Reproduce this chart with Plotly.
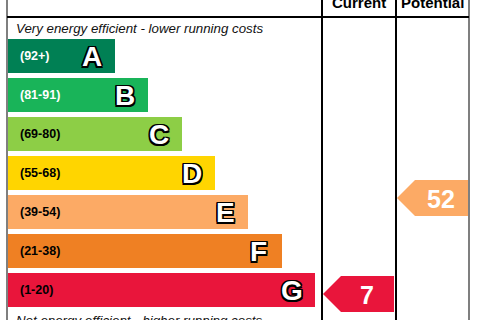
import plotly.graph_objects as go

# ---- data ----
bands = ["A", "B", "C", "D", "E", "F", "G"]
ranges = ["(92+)", "(81-91)", "(69-80)", "(55-68)", "(39-54)", "(21-38)", "(1-20)"]
band_colors = ["#008054", "#19b459", "#8dce46", "#ffd500", "#fcaa65", "#ef8023", "#e9153b"]
range_font_colors = ["white", "white", "black", "black", "black", "black", "black"]
current_value = 7
current_band = "G"
potential_value = 52
potential_band = "E"
header_labels = ["Current", "Potential"]
top_note = "Very energy efficient - lower running costs"
bottom_note = "Not energy efficient - higher running costs"

FONT = "Liberation Sans, Arial, sans-serif"
W, H = 480, 320

# layout geometry (pixels)
x_left = 8
row0 = 55.5
row_step = 39
bar_h = 34
end0 = 115
end_step = 33.33
col_cur = (323, 394)
col_pot = (397, 468)

def value_to_y(v):
    return 309 - 2.133 * v

fig = go.Figure()

centers = [row0 + i * row_step for i in range(len(bands))]
lengths = [end0 + i * end_step - x_left for i in range(len(bands))]

fig.add_trace(go.Bar(
    orientation="h", y=centers, x=lengths, base=x_left, width=bar_h,
    marker=dict(color=band_colors, line=dict(width=0)),
    hoverinfo="skip", showlegend=False,
))

outline = ", ".join(f"{dx}px {dy}px 0 #000" for dx, dy in
                    [(1.5, 1.5), (-1.5, -1.5), (1.5, -1.5), (-1.5, 1.5), (0, 1.5), (0, -1.5), (1.5, 0), (-1.5, 0)])

annotations = []
for i, b in enumerate(bands):
    end = x_left + lengths[i]
    annotations.append(dict(
        x=18, y=centers[i], text=f"<b>{ranges[i]}</b>", showarrow=False,
        xanchor="left", yanchor="middle",
        font=dict(family=FONT, size=12.5, color=range_font_colors[i]),
    ))
    annotations.append(dict(
        x=end - 23, y=centers[i] + 1, text=f"<b>{b}</b>", showarrow=False,
        xanchor="center", yanchor="middle",
        font=dict(family=FONT, size=28, color="white", shadow=outline),
    ))

def add_arrow(val, band, col):
    color = band_colors[bands.index(band)]
    yc = value_to_y(val)
    x0, x1 = col
    h2 = 18
    pts_x = [x0, x0 + 18, x1, x1, x0 + 18, x0]
    pts_y = [yc, yc - h2, yc - h2, yc + h2, yc + h2, yc]
    fig.add_trace(go.Scatter(
        x=pts_x, y=pts_y, fill="toself", fillcolor=color, mode="lines",
        line=dict(width=0, color=color), hoverinfo="skip", showlegend=False,
    ))
    annotations.append(dict(
        x=x1 - 27, y=yc + 1, text=f"<b>{val}</b>", showarrow=False,
        xanchor="center", yanchor="middle",
        font=dict(family=FONT, size=25, color="white"),
    ))

add_arrow(current_value, current_band, col_cur)
add_arrow(potential_value, potential_band, col_pot)

annotations.append(dict(x=(322 + 396) / 2, y=2, text=f"<b>{header_labels[0]}</b>", showarrow=False,
                        xanchor="center", yanchor="middle", font=dict(family=FONT, size=15, color="black")))
annotations.append(dict(x=(396 + 469) / 2, y=2, text=f"<b>{header_labels[1]}</b>", showarrow=False,
                        xanchor="center", yanchor="middle", font=dict(family=FONT, size=15, color="black")))
annotations.append(dict(x=14, y=28, text=f"<i>{top_note}</i>", showarrow=False,
                        xanchor="left", yanchor="middle", font=dict(family=FONT, size=13.3, color="#111")))
annotations.append(dict(x=14, y=320, text=f"<i>{bottom_note}</i>", showarrow=False,
                        xanchor="left", yanchor="middle", font=dict(family=FONT, size=13.3, color="#111")))

shapes = [
    dict(type="line", x0=7, x1=7, y0=-5, y1=325, line=dict(color="#555", width=1.5)),
    dict(type="line", x0=469, x1=469, y0=-5, y1=325, line=dict(color="#555", width=1.5)),
    dict(type="line", x0=7, x1=469, y0=17, y1=17, line=dict(color="black", width=2)),
    dict(type="line", x0=322, x1=322, y0=-5, y1=325, line=dict(color="black", width=2)),
    dict(type="line", x0=396, x1=396, y0=-5, y1=325, line=dict(color="black", width=2)),
]

fig.update_layout(
    width=W, height=H, margin=dict(l=0, r=0, t=0, b=0),
    paper_bgcolor="white", plot_bgcolor="white",
    xaxis=dict(range=[0, W], visible=False, fixedrange=True),
    yaxis=dict(range=[H, 0], visible=False, fixedrange=True),
    annotations=annotations, shapes=shapes, bargap=0,
)

fig.write_html("out.html")
